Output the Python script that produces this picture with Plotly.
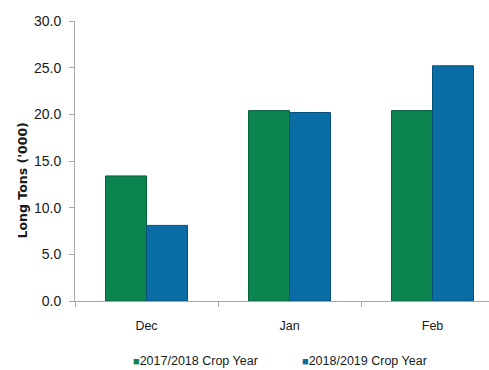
import plotly.graph_objects as go

# Monthly volumes, long tons ('000)
months = ["Dec", "Jan", "Feb"]
series_names = ["2017/2018 Crop Year", "2018/2019 Crop Year"]
crop_2017_18 = [13.4, 20.4, 20.4]
crop_2018_19 = [8.1, 20.2, 25.2]
y_ticks = [0, 5, 10, 15, 20, 25, 30]
y_tick_labels = [f"{v:.1f}" for v in y_ticks]
y_title = "Long Tons ('000)"

FONT = "Liberation Sans, Arial, sans-serif"
TEXT = "#1A1A1A"
AXIS = "#A6A6A6"
colors = ["#0B8450", "#0A6DA6"]
edges = ["#06603A", "#07507C"]

fig = go.Figure()
for name, vals, c, e in zip(series_names, [crop_2017_18, crop_2018_19], colors, edges):
    fig.add_trace(go.Bar(
        x=months, y=vals, name=name, showlegend=False,
        marker=dict(color=c, line=dict(color=e, width=1)),
    ))

# Compact legend: small coloured square directly before each label
legend_x = [0.135, 0.543]
for name, c, lx in zip(series_names, colors, legend_x):
    fig.add_annotation(
        xref="paper", yref="paper", x=lx, y=-0.215,
        xanchor="left", yanchor="middle", showarrow=False,
        text=f"<span style='color:{c};font-size:11px'>■</span>{name}",
        font=dict(family=FONT, size=12.5, color=TEXT),
    )

# Vertical axis title, placed slightly below the plot's mid-height
fig.add_annotation(
    xref="paper", yref="paper", x=-0.126, y=0.43,
    xanchor="center", yanchor="middle", showarrow=False, textangle=-90,
    text=f"<b>{y_title}</b>",
    font=dict(family="DejaVu Sans", size=12.5, color=TEXT),
)

fig.update_layout(
    width=489, height=370,
    margin=dict(l=75, r=0, t=20.5, b=68.5),
    paper_bgcolor="white", plot_bgcolor="white",
    font=dict(family=FONT, size=14, color=TEXT),
    barmode="group", bargap=0.427, bargroupgap=0,
    showlegend=False,
    xaxis=dict(
        range=[-0.5, 2.395],
        showline=True, linecolor=AXIS, linewidth=1,
        ticks="outside", tickson="boundaries", ticklen=5, tickcolor=AXIS,
        showgrid=False, zeroline=False,
        tickfont=dict(family=FONT, size=12.5, color=TEXT),
        ticklabelstandoff=13,
    ),
    yaxis=dict(
        range=[0, 30],
        tickvals=y_ticks, ticktext=y_tick_labels,
        showline=True, linecolor=AXIS, linewidth=1,
        ticks="outside", ticklen=5, tickcolor=AXIS,
        showgrid=False, zeroline=False,
        tickfont=dict(family=FONT, size=14, color=TEXT),
        ticklabelstandoff=5,
    ),
)

fig.write_html("out.html")
